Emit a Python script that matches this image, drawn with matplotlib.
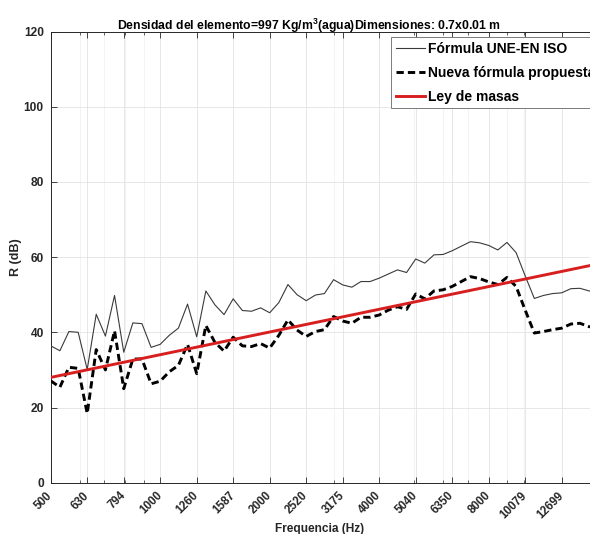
import matplotlib
matplotlib.use("Agg")
import matplotlib.pyplot as plt

plt.rcParams['font.family'] = ['Liberation Sans', 'DejaVu Sans']
plt.rcParams['font.weight'] = 'bold'
plt.rcParams['mathtext.fontset'] = 'custom'
plt.rcParams['mathtext.rm'] = 'Liberation Sans:bold'
plt.rcParams['mathtext.bf'] = 'Liberation Sans:bold'

# 1/12-octave frequencies (Hz)
freq = [500, 530, 561, 595, 630, 667, 707, 749, 794, 841, 891, 944,
        1000, 1059, 1122, 1189, 1260, 1335, 1414, 1498, 1587, 1682, 1782, 1888,
        2000, 2119, 2245, 2378, 2520, 2670, 2828, 2997, 3175, 3364, 3564, 3775,
        4000, 4238, 4490, 4757, 5040, 5339, 5657, 5993, 6350, 6727, 7127, 7551,
        8000, 8476, 8980, 9514, 10079, 10679, 11314, 11986, 12699, 13454, 14254,
        15102, 16000]

r_une = [36.4, 35.1, 40.2, 40.0, 30.1, 44.8, 39.0, 49.8, 34.7, 42.5, 42.3, 36.0,
         36.8, 39.2, 41.1, 47.5, 38.8, 51.0, 47.3, 44.7, 48.9, 45.8, 45.6, 46.5,
         45.2, 47.9, 52.7, 50.0, 48.4, 49.9, 50.3, 54.0, 52.6, 52.0, 53.5, 53.5,
         54.4, 55.5, 56.6, 55.9, 59.5, 58.4, 60.6, 60.7, 61.7, 62.9, 64.1, 63.8,
         63.1, 61.9, 63.9, 61.2, 55.0, 49.0, 49.8, 50.3, 50.5, 51.6, 51.7, 51.0,
         50.6]

r_nueva = [27.1, 25.4, 30.7, 30.4, 18.4, 35.4, 30.0, 40.4, 25.0, 32.9, 32.9, 26.3,
           27.0, 29.5, 31.2, 36.8, 29.0, 41.8, 37.3, 35.0, 38.7, 36.4, 36.2, 37.0,
           35.8, 39.2, 43.3, 40.6, 38.9, 40.2, 40.7, 44.2, 43.0, 42.4, 44.0, 44.0,
           44.6, 45.9, 46.8, 46.1, 50.2, 48.9, 51.0, 51.3, 52.2, 53.5, 54.8, 54.3,
           53.4, 52.7, 54.6, 52.2, 45.9, 39.8, 40.2, 40.7, 41.1, 42.2, 42.4, 41.5,
           41.2]

# mass law (straight line in log-frequency) endpoints
masa_freq = [500, 16000]
masa_r = [28.0, 58.2]

xtick_vals = [500, 630, 794, 1000, 1260, 1587, 2000, 2520, 3175, 4000, 5040,
              6350, 8000, 10079, 12699]
xtick_labels = [str(v) for v in xtick_vals]
xminor_vals = [600, 700, 800, 900, 2000, 3000, 4000, 5000, 6000, 7000, 8000,
               9000, 10000]
yticks = [0, 20, 40, 60, 80, 100, 120]

labels = ['Fórmula UNE-EN ISO', 'Nueva fórmula propuesta', 'Ley de masas']
title = 'Densidad del elemento=997 Kg/m$^{3}$(agua)Dimensiones: 0.7x0.01 m'

W, H = 590, 534
fig = plt.figure(figsize=(W / 100, H / 100), dpi=100)
left, right, top, bottom = 50.7, 598.2, 31.5, 482.7
ax = fig.add_axes([left / W, 1 - bottom / H, (right - left) / W, (bottom - top) / H])

axc = '#262626'
ax.plot(freq, r_une, color='#3a3a3a', lw=0.8, label=labels[0], zorder=3)
ax.plot(freq, r_nueva, color='black', lw=2.1, linestyle=(0, (2.5, 1.4)),
        label=labels[1], zorder=4)
ax.plot(masa_freq, masa_r, color='#d81f1f', lw=2.1, label=labels[2], zorder=5)

ax.set_xscale('log')
ax.set_xlim(500, 16000)
ax.set_ylim(0, 120)
ax.set_xticks(xtick_vals)
ax.set_xticklabels(xtick_labels, rotation=45, ha='right', va='center',
                   rotation_mode='anchor', fontsize=8.3, fontweight='bold', color=axc)
ax.set_xticks(xminor_vals, minor=True)
ax.set_xticklabels([], minor=True)
ax.set_yticks(yticks)
ax.set_yticklabels([str(v) for v in yticks], fontsize=8.6, fontweight='bold', color=axc)

ax.grid(True, which='major', color='#e3e3e3', lw=0.6, zorder=0)
ax.grid(True, which='minor', axis='x', color='#eeeeee', lw=0.5, zorder=0)
ax.set_axisbelow(True)

ax.tick_params(which='both', direction='in', top=True, right=True, color=axc)
ax.tick_params(which='major', length=4, width=0.6)
ax.tick_params(which='minor', length=2.5, width=0.5)
ax.tick_params(axis='x', which='major', pad=8)
ax.tick_params(axis='y', which='major', pad=5)
for s in ax.spines.values():
    s.set_color(axc)
    s.set_linewidth(0.7)

ax.set_ylabel('R (dB)', fontsize=9, fontweight='bold', color=axc, labelpad=1)
fig.text(320 / W, 1 - 529 / H, 'Frequencia (Hz)', fontsize=8.6, fontweight='bold',
         color=axc, ha='center', va='center')
fig.text(308.6 / W, 1 - 25.5 / H, title, fontsize=8.8, fontweight='bold',
         color='black', ha='center', va='center')

leg = fig.legend(loc='upper left', bbox_to_anchor=(390.7 / W, 1 - 36.7 / H),
                 bbox_transform=fig.transFigure, borderaxespad=0,
                 prop={'weight': 'bold', 'size': 10},
                 handlelength=2.1, handletextpad=0.22, borderpad=0.35,
                 labelspacing=0.72, fancybox=False, framealpha=1,
                 edgecolor='#7a7a7a')
leg.get_frame().set_linewidth(0.7)
for t in leg.get_texts():
    t.set_color('black')

fig.savefig('out.png', dpi=100)
